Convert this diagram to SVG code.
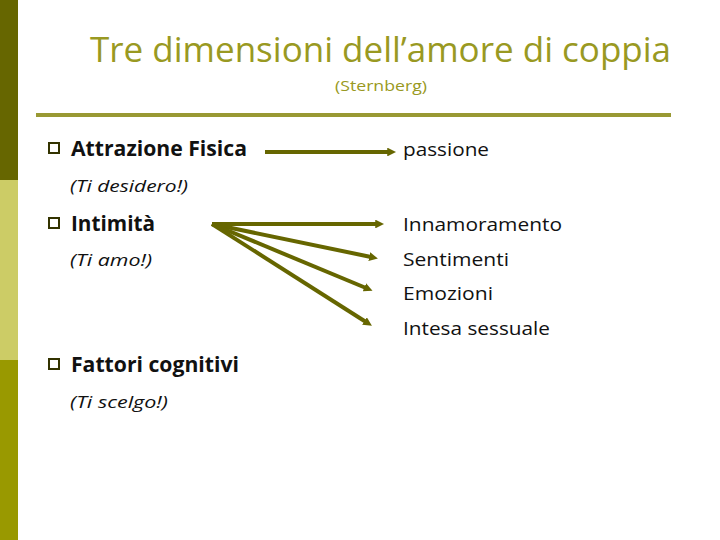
<svg xmlns="http://www.w3.org/2000/svg" width="720" height="540" viewBox="0 0 720 540">
<defs>
<style>
.t{font-family:"Open Sans","Liberation Sans",sans-serif;}
.title{fill:#999922;font-size:35px;}
.sub{fill:#999922;font-size:15px;}
.b{font-weight:bold;font-size:21px;fill:#111;}
.i{font-style:italic;font-size:17px;fill:#111;}
.r{font-size:19px;fill:#111;}
.bul{fill:none;stroke:#333300;stroke-width:2;}
.arr{stroke:#666600;stroke-width:4;fill:none;marker-end:url(#ah);}
</style>
<marker id="ah" viewBox="0 0 10 10" refX="2" refY="5" markerWidth="2.2" markerHeight="2.2" orient="auto" markerUnits="strokeWidth">
<path d="M0,0 L10,5 L0,10 z" fill="#666600"/>
</marker>
</defs>
<rect width="720" height="540" fill="#ffffff"/>
<g id="sidebar">
<rect x="0" y="0" width="18" height="180" fill="#666600"/>
<rect x="0" y="180" width="18" height="180" fill="#cccc66"/>
<rect x="0" y="360" width="18" height="180" fill="#999900"/>
</g>
<g id="title" class="t">
<text class="title" x="90" y="62" textLength="581" lengthAdjust="spacingAndGlyphs">Tre dimensioni dell’amore di coppia</text>
<text class="sub" x="335" y="91" textLength="92" lengthAdjust="spacingAndGlyphs">(Sternberg)</text>
<line x1="36" y1="115" x2="671" y2="115" stroke="#999933" stroke-width="4"/>
</g>
<g id="attrazione" class="t">
<rect class="bul" x="49" y="143" width="10" height="10"/>
<text class="b" x="71" y="156" textLength="176" lengthAdjust="spacingAndGlyphs">Attrazione Fisica</text>
<text class="i" x="70" y="192" textLength="118" lengthAdjust="spacingAndGlyphs">(Ti desidero!)</text>
</g>
<g id="intimita" class="t">
<rect class="bul" x="49" y="218" width="10" height="10"/>
<text class="b" x="71" y="231" textLength="84" lengthAdjust="spacingAndGlyphs">Intimità</text>
<text class="i" x="70" y="266" textLength="82" lengthAdjust="spacingAndGlyphs">(Ti amo!)</text>
</g>
<g id="fattori" class="t">
<rect class="bul" x="49" y="359" width="10" height="10"/>
<text class="b" x="71" y="372" textLength="168" lengthAdjust="spacingAndGlyphs">Fattori cognitivi</text>
<text class="i" x="70" y="408" textLength="98" lengthAdjust="spacingAndGlyphs">(Ti scelgo!)</text>
</g>
<g id="passione" class="t">
<text class="r" x="403" y="156" textLength="86" lengthAdjust="spacingAndGlyphs">passione</text>
</g>
<g id="innamoramento" class="t">
<text class="r" x="403" y="231" textLength="159" lengthAdjust="spacingAndGlyphs">Innamoramento</text>
</g>
<g id="sentimenti" class="t">
<text class="r" x="403" y="266" textLength="106" lengthAdjust="spacingAndGlyphs">Sentimenti</text>
</g>
<g id="emozioni" class="t">
<text class="r" x="403" y="300" textLength="90" lengthAdjust="spacingAndGlyphs">Emozioni</text>
</g>
<g id="intesa" class="t">
<text class="r" x="403" y="335" textLength="147" lengthAdjust="spacingAndGlyphs">Intesa sessuale</text>
</g>
<g id="connectors">
<line class="arr" x1="265" y1="152" x2="389" y2="152"/>
<line class="arr" x1="212" y1="224" x2="377" y2="224"/>
<line class="arr" x1="212" y1="224" x2="371" y2="257"/>
<line class="arr" x1="212" y1="224" x2="366" y2="288"/>
<line class="arr" x1="212" y1="224" x2="366" y2="322"/>
</g>
</svg>
